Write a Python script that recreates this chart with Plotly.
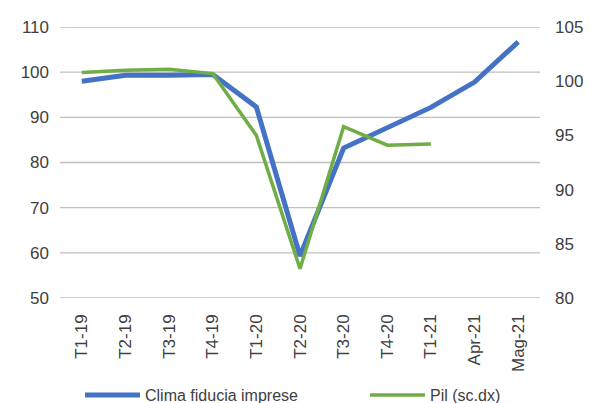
import plotly.graph_objects as go

categories = ["T1-19", "T2-19", "T3-19", "T4-19", "T1-20", "T2-20", "T3-20",
              "T4-20", "T1-21", "Apr-21", "Mag-21"]
clima = [98.0, 99.3, 99.3, 99.5, 92.3, 59.3, 83.2, 87.7, 92.2, 97.8, 106.7]
pil_cat = ["T1-19", "T2-19", "T3-19", "T4-19", "T1-20", "T2-20", "T3-20",
           "T4-20", "T1-21"]
pil = [100.8, 101.0, 101.1, 100.7, 95.0, 82.7, 95.8, 94.1, 94.2]

left_ticks = [50, 60, 70, 80, 90, 100, 110]
right_ticks = [80, 85, 90, 95, 100, 105]

font_fam = "Liberation Sans, Arial, sans-serif"
txt = "#404040"

W, H = 583, 395

fig = go.Figure()
fig.add_trace(go.Scatter(x=categories, y=clima, mode="lines",
                         name="Clima fiducia imprese", legend="legend",
                         line=dict(color="#4472C4", width=5)))
fig.add_trace(go.Scatter(x=pil_cat, y=pil, mode="lines", name="Pil (sc.dx)",
                         legend="legend2",
                         line=dict(color="#70AD47", width=3.5), yaxis="y2"))

# horizontal gridlines at the left-axis ticks
for v in left_ticks:
    fig.add_hline(y=v, line=dict(color="#bfbfbf", width=1.3), layer="below")

leg_common = dict(orientation="h", yanchor="middle", xanchor="left",
                  xref="container", yref="container", y=8 / H,
                  font=dict(size=16, color=txt), itemwidth=55,
                  bgcolor="rgba(0,0,0,0)")

fig.update_layout(
    width=W, height=H,
    margin=dict(l=52, r=51, t=19, b=105, autoexpand=False),
    paper_bgcolor="white", plot_bgcolor="white",
    font=dict(family=font_fam, size=17, color=txt),
    showlegend=True,
    legend=dict(x=72 / W, **leg_common),
    legend2=dict(x=357 / W, **leg_common),
    xaxis=dict(type="category", categoryorder="array", categoryarray=categories,
               tickangle=-90, showgrid=False, showline=False, ticks="",
               tickfont=dict(size=17, color=txt), range=[-0.5, 10.5],
               ticklabelstandoff=12),
    yaxis=dict(range=[50, 110], tickvals=left_ticks, tickmode="array",
               showgrid=False, zeroline=False, showline=False,
               ticks="", tickfont=dict(size=17, color=txt), ticklabelstandoff=10),
    yaxis2=dict(range=[80, 105], tickvals=right_ticks, tickmode="array",
                overlaying="y", side="right",
                showgrid=False, zeroline=False, showline=False, ticks="",
                tickfont=dict(size=17, color=txt), ticklabelstandoff=14),
)

fig.write_html("out.html")
